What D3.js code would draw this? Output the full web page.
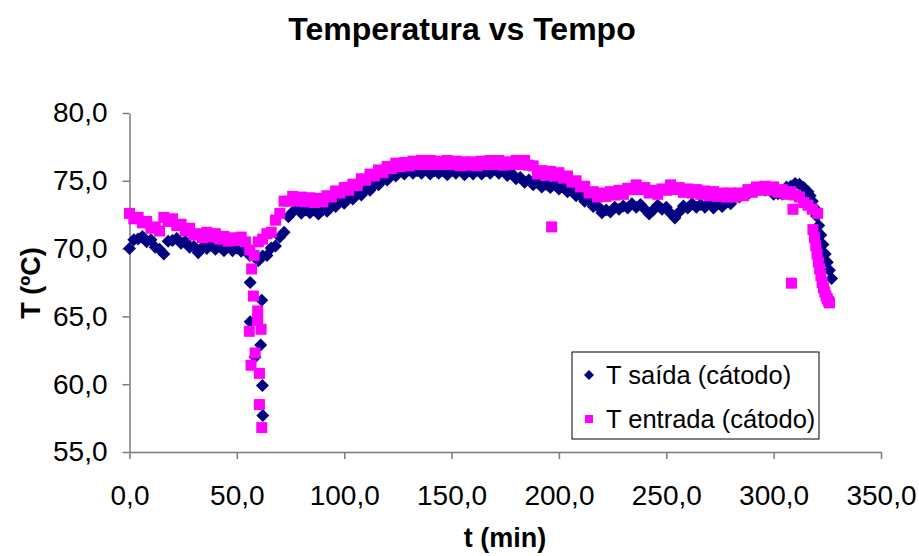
<!DOCTYPE html>
<html>
<head>
<meta charset="utf-8">
<script src="https://cdn.jsdelivr.net/npm/d3@7"></script>
<style>
  html, body { margin: 0; padding: 0; background: #fff; }
  svg { display: block; font-family: "Liberation Sans", Arial, sans-serif; }
</style>
</head>
<body>
<svg id="chart" width="919" height="556"></svg>
<script>
// Time (min) and outlet temperature (ºC) on the cathode side
const tempoSaida = [
  0,2,4,6,8,10,12,14,16,18,20,22,24,26,28,30,32,34,36,38,40,42,44,46,48,50,52,54,56,58,60,62,
  56.2,61.6,56.2,61.1,58.5,61.9,62.1,
  64,66,68,70,72,74,76,78,80,82,84,86,88,90,92,94,96,98,100,102,104,106,108,110,112,114,116,118,
  120,122,124,126,128,130,132,134,136,138,140,142,144,146,148,150,152,154,156,158,160,162,164,166,
  168,170,172,174,176,178,180,182,184,186,188,190,192,194,196,198,200,202,204,206,208,210,212,214,
  216,218,220,222,224,226,228,230,232,234,236,238,240,242,244,246,248,250,252,254,256,258,260,262,
  264,266,268,270,272,274,276,278,280,282,284,286,288,290,292,294,296,298,300,302,304,306,308,310,
  312,314,316,317,318,319,320,321,322,323,324,325,326,327
];
const saida = [
  70.0,70.65,70.7,70.9,70.5,70.65,70.1,69.95,69.6,70.55,70.6,70.75,70.4,70.55,70.1,70.15,69.7,70.1,70.0,70.25,69.95,70.15,69.85,70.15,69.85,70.05,69.8,70.0,69.5,69.45,69.1,69.45,
  67.5,66.2,64.6,62.9,62.0,59.9,57.7,
  69.5,70.05,70.2,70.85,71.2,72.35,72.7,73.0,72.6,72.85,72.65,72.85,72.55,72.85,72.75,73.2,73.1,73.5,73.35,73.75,73.65,74.05,73.95,74.35,74.3,74.75,74.7,75.15,
  75.05,75.45,75.35,75.7,75.5,75.8,75.55,75.75,75.55,75.95,75.5,75.75,75.55,75.75,75.45,75.75,75.55,75.9,75.45,75.75,75.5,75.8,75.5,75.75,
  75.55,75.9,75.55,75.75,75.4,75.55,75.15,75.25,74.9,75.05,74.7,74.85,74.55,74.75,74.5,74.7,74.4,74.55,74.2,74.3,73.9,73.95,73.5,73.55,
  73.1,73.15,72.65,72.85,72.7,73.05,72.9,73.15,73.0,73.3,73.05,73.25,72.9,72.55,72.85,73.2,72.9,73.05,72.6,72.25,72.7,73.15,73.0,73.3,
  73.05,73.25,73.05,73.3,73.0,73.3,73.1,73.4,73.3,73.8,73.8,74.15,74.0,74.4,74.25,74.55,74.3,74.45,74.0,74.05,74.0,74.55,74.6,74.8,
  74.75,74.5,74.2,73.9,73.5,73.0,72.4,71.7,71.0,70.3,69.6,69.0,68.4,67.8
];

// Time (min) and inlet temperature (ºC) on the cathode side
const tempoEntrada = [
  0,2,4,6,8,10,12,14,16,18,20,22,24,26,28,30,32,34,36,38,40,42,44,46,48,50,52,54,56,58,60,62,
  56.9,57.7,59.7,59.7,55.8,61.3,58.5,56.6,60.5,60.5,61.6,
  64,66,68,70,72,74,76,78,80,82,84,86,88,90,92,94,96,98,100,102,104,106,108,110,112,114,116,118,
  120,122,124,126,128,130,132,134,136,138,140,142,144,146,148,150,152,154,156,158,160,162,164,166,
  168,170,172,174,176,178,180,182,184,186,188,190,192,194,196,196.6,198,200,202,204,206,208,210,212,214,
  216,218,220,222,224,226,228,230,232,234,236,238,240,242,244,246,248,250,252,254,256,258,260,262,
  264,266,268,270,272,274,276,278,280,282,284,286,288,290,292,294,296,298,300,302,304,306,308,308.3,309,310,
  312,314,316,318,320.5,318.3,319,319.6,320.2,320.8,321.4,322,322.6,323.2,323.8,324.4,325,325.6,326
];
const entrada = [
  72.6,72.2,72.3,71.9,72.0,71.5,71.6,71.3,72.3,72.0,72.2,71.7,71.8,71.3,71.5,71.0,71.1,70.8,71.2,70.85,71.1,70.7,70.9,70.55,70.8,70.6,70.85,70.5,69.9,69.5,70.5,70.7,
  68.5,66.5,65.4,64.7,63.9,64.05,62.3,61.4,60.8,58.5,56.8,
  71.1,71.2,72.1,72.6,73.5,73.5,73.85,73.5,73.8,73.45,73.75,73.4,73.7,73.45,73.9,73.8,74.25,74.1,74.5,74.3,74.75,74.65,75.15,75.05,75.5,75.35,75.8,75.6,
  76.05,75.9,76.3,76.05,76.35,76.1,76.45,76.2,76.5,76.2,76.5,76.2,76.45,76.2,76.5,76.2,76.45,76.1,76.4,76.15,76.4,76.1,76.45,76.2,
  76.5,76.2,76.5,76.15,76.4,76.2,76.5,76.2,76.5,76.15,76.1,75.5,75.75,75.4,75.7,71.6,75.35,75.6,75.2,75.35,74.9,75.0,74.55,74.6,74.1,
  74.2,73.8,74.1,73.85,74.2,73.95,74.3,74.0,74.45,74.35,74.7,74.35,74.5,74.1,74.3,74.0,74.4,74.3,74.7,74.35,74.5,74.15,74.4,74.1,
  74.35,74.0,74.25,73.9,74.2,73.85,74.1,73.8,74.1,73.8,74.1,73.9,74.35,74.15,74.55,74.3,74.6,74.3,74.55,74.15,74.35,74.0,74.2,67.45,72.9,73.95,
  73.8,73.4,73.2,72.9,72.6,71.4,70.8,70.2,69.6,69.0,68.5,68.0,67.5,67.1,66.8,66.5,66.3,66.1,66.0
];

const xTicks = [0, 50, 100, 150, 200, 250, 300, 350];
const yTicks = [55, 60, 65, 70, 75, 80];

const svg = d3.select("#chart");
const x = d3.scaleLinear().domain([0, 350]).range([129.5, 881]);
const y = d3.scaleLinear().domain([55, 80]).range([452, 113]);
const fmt = d => d3.format(".1f")(d).replace(".", ",");

// axes
const gx = svg.append("g").attr("transform", "translate(0,452)")
  .call(d3.axisBottom(x).tickValues(xTicks).tickFormat(fmt).tickSize(7).tickSizeOuter(0).tickPadding(26));
const gy = svg.append("g").attr("transform", "translate(129.5,0)")
  .call(d3.axisLeft(y).tickValues(yTicks).tickFormat(fmt).tickSize(7).tickSizeOuter(0).tickPadding(15));
[gx, gy].forEach(g => {
  g.selectAll("path, line").attr("stroke", "#7a7a7a").attr("stroke-width", 1.5);
  g.selectAll("text").attr("font-family", "Liberation Sans, Arial, sans-serif")
    .attr("font-size", 28).attr("fill", "#000");
});

// series: outlet diamonds, then inlet squares on top
const diamond = s => `M0,${-s}L${s},0L0,${s}L${-s},0Z`;
svg.append("g").selectAll("path").data(d3.range(saida.length)).join("path")
  .attr("d", diamond(6.5))
  .attr("transform", i => `translate(${x(tempoSaida[i])},${y(saida[i])})`)
  .attr("fill", "#000080");
svg.append("g").selectAll("rect").data(d3.range(entrada.length)).join("rect")
  .attr("x", i => x(tempoEntrada[i]) - 5.5)
  .attr("y", i => y(entrada[i]) - 5.5)
  .attr("width", 11).attr("height", 11)
  .attr("fill", "#ff00ff");

// titles
svg.append("text").attr("x", 462).attr("y", 40).attr("text-anchor", "middle")
  .attr("font-size", 32).attr("font-weight", "bold").text("Temperatura vs Tempo");
svg.append("text").attr("x", 505).attr("y", 547).attr("text-anchor", "middle")
  .attr("font-size", 27).attr("font-weight", "bold").text("t (min)");
svg.append("text").attr("transform", "translate(40,283) rotate(-90)").attr("text-anchor", "middle")
  .attr("font-size", 27).attr("font-weight", "bold").text("T (ºC)");

// legend
const lg = svg.append("g");
lg.append("rect").attr("x", 572).attr("y", 352).attr("width", 247).attr("height", 87)
  .attr("fill", "#fff").attr("stroke", "#000").attr("stroke-width", 1);
lg.append("path").attr("d", diamond(5)).attr("transform", "translate(589,375)").attr("fill", "#000080");
lg.append("rect").attr("x", 585).attr("y", 415).attr("width", 8).attr("height", 8).attr("fill", "#ff00ff");
lg.append("text").attr("x", 606).attr("y", 384).attr("font-size", 25.5).text("T saída (cátodo)");
lg.append("text").attr("x", 606).attr("y", 428).attr("font-size", 25.5).text("T entrada (cátodo)");
</script>
</body>
</html>
